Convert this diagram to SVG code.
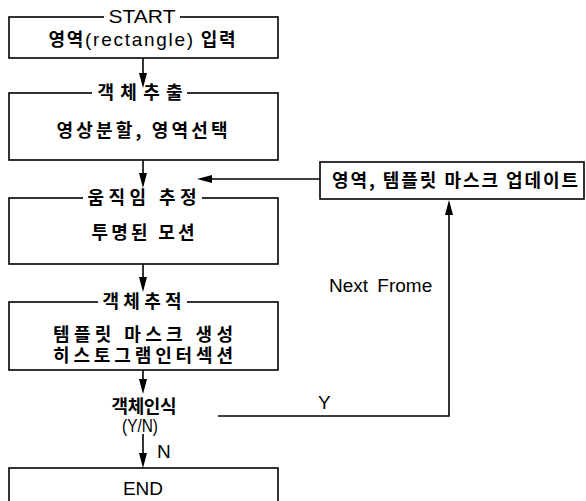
<svg xmlns="http://www.w3.org/2000/svg" width="586" height="501" viewBox="0 0 586 501">
<defs>
<path id="ad" d="M-4,-15 L4,-15 L0,0 Z" fill="#000"/>
<path id="au" d="M-4,15 L4,15 L0,0 Z" fill="#000"/>
<path id="al" d="M15,-4 L15,4 L0,0 Z" fill="#000"/>
</defs>
<style>
.box{fill:#fff;stroke:#000;stroke-width:1.6}
.k{font-family:"Noto Sans CJK KR","Liberation Sans",sans-serif;font-size:18px;font-weight:bold;fill:#000;text-anchor:middle}
.e{font-family:"Liberation Sans","Noto Sans CJK KR",sans-serif;font-size:19px;fill:#000}
.bg{fill:#fff}
.ln{fill:none;stroke:#000;stroke-width:1.6}
</style>
<rect width="586" height="501" fill="#fff"/>
<g id="start">
<rect class="box" x="9" y="17" width="269" height="41"/>
<rect class="bg" x="104" y="8" width="76" height="16"/>
<text class="e" x="142" y="23" text-anchor="middle" textLength="67" lengthAdjust="spacingAndGlyphs">START</text>
<text class="k" x="142" y="46" textLength="187" lengthAdjust="spacing">영역<tspan style="font-family:'Liberation Sans',sans-serif;font-weight:normal;font-size:19px">(rectangle)</tspan> 입력</text>
</g>
<g id="extract">
<rect class="box" x="9" y="93" width="269" height="67"/>
<rect class="bg" x="92" y="84" width="95" height="18"/>
<text class="k" x="140" y="99" textLength="85" lengthAdjust="spacing">객체추출</text>
<text class="k" x="142" y="137" textLength="171" lengthAdjust="spacing">영상분할, 영역선택</text>
</g>
<g id="motion">
<rect class="box" x="9" y="198" width="269" height="66"/>
<rect class="bg" x="83" y="189" width="119" height="18"/>
<text class="k" x="142" y="204" textLength="109" lengthAdjust="spacing">움직임 추정</text>
<text class="k" x="143" y="239" textLength="103" lengthAdjust="spacing">투명된 모션</text>
</g>
<g id="track">
<rect class="box" x="9" y="302" width="269" height="68"/>
<rect class="bg" x="98" y="293" width="89" height="18"/>
<text class="k" x="142" y="308" textLength="79" lengthAdjust="spacing">객체추적</text>
<text class="k" x="143" y="341" textLength="180" lengthAdjust="spacing">템플릿 마스크 생성</text>
<text class="k" x="143" y="362" textLength="180" lengthAdjust="spacing">히스토그램인터섹션</text>
</g>
<g id="recognize">
<text class="k" x="144" y="413" textLength="65" lengthAdjust="spacing">객체인식</text>
<text class="e" x="140" y="432" text-anchor="middle" textLength="36" lengthAdjust="spacingAndGlyphs">(Y/N)</text>
</g>
<g id="end">
<rect class="box" x="9" y="468" width="269" height="40"/>
<text class="e" x="143" y="495" text-anchor="middle">END</text>
</g>
<g id="update">
<rect class="box" x="320" y="162" width="264" height="37"/>
<text class="k" x="455" y="187" textLength="246" lengthAdjust="spacing">영역, 템플릿 마스크 업데이트</text>
</g>
<g id="connectors">
<line class="ln" x1="143" y1="58" x2="143" y2="80"/>
<use href="#ad" x="143" y="88"/>
<line class="ln" x1="143" y1="160" x2="143" y2="180"/>
<use href="#ad" x="143" y="188"/>
<line class="ln" x1="143" y1="264" x2="143" y2="284"/>
<use href="#ad" x="143" y="292"/>
<line class="ln" x1="143" y1="370" x2="143" y2="386"/>
<use href="#ad" x="143" y="394"/>
<line class="ln" x1="143" y1="434" x2="143" y2="460"/>
<use href="#ad" x="143" y="468"/>
<polyline class="ln" points="218,416 449,416 449,208"/>
<use href="#au" x="449" y="200"/>
<line class="ln" x1="320" y1="179" x2="205" y2="179"/>
<use href="#al" x="197" y="179"/>
<text class="e" x="329" y="292" style="word-spacing:4px">Next Frome</text>
<text class="e" x="318" y="409">Y</text>
<text class="e" x="157" y="458">N</text>
</g>
</svg>
